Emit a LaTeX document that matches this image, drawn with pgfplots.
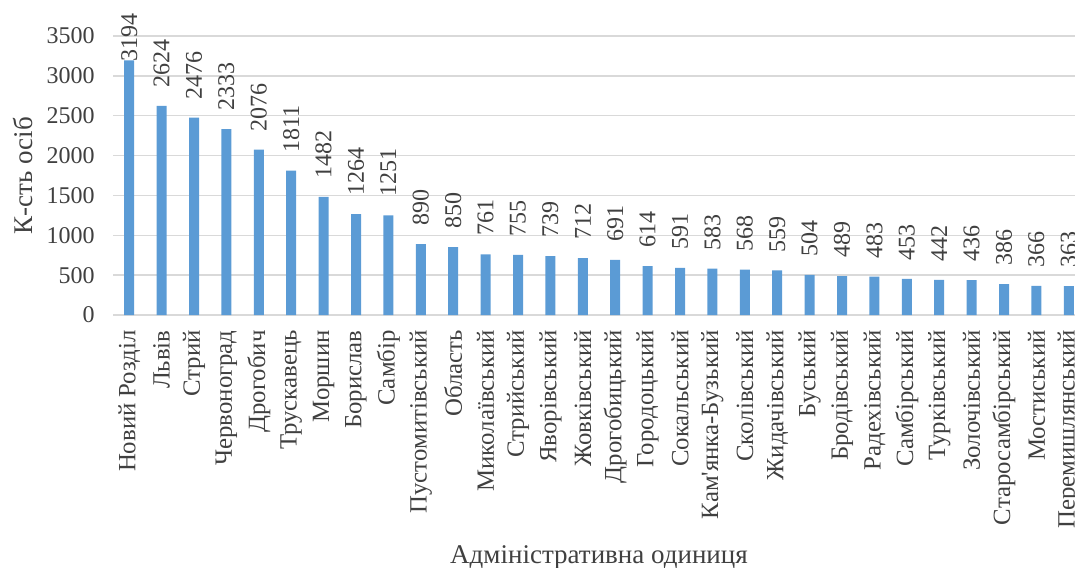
\documentclass[border=0pt]{standalone}
\usepackage{fontspec}
\setmainfont{Liberation Serif}
\usepackage{pgfplots}
\pgfplotsset{compat=1.18}
\definecolor{barblue}{HTML}{5B9BD5}
\definecolor{txt}{HTML}{404040}
\definecolor{gridgray}{HTML}{D9D9D9}

\begin{document}
\begin{tikzpicture}
\begin{axis}[
  scale only axis, width=486pt, height=139.5pt,
  xmin=-0.5, xmax=29.5, ymin=0, ymax=3500,
  enlargelimits=false, clip=false,
  ybar, bar width=5pt,
  axis line style={draw=none},
  major tick length=0pt,
  ymajorgrids, grid style={gridgray, line width=0.75pt},
  ytick={0,500,...,3500},
  /pgf/number format/assume math mode=true,
  /pgf/number format/set thousands separator={},
  tick label style={text=txt, font=\fontsize{12}{12}\selectfont},
  yticklabel style={anchor=east, inner xsep=9pt},
  xtick={0,...,29},
  xticklabels={Новий Розділ, Львів, Стрий, Червоноград, Дрогобич, Трускавець,
    Моршин, Борислав, Самбір, Пустомитівський, Область, Миколаївський,
    Стрийський, Яворівський, Жовківський, Дрогобицький, Городоцький,
    Сокальський, Кам\textquotesingle янка-Бузький, Сколівський, Жидачівський, Буський,
    Бродівський, Радехівський, Самбірський, Турківський, Золочівський,
    Старосамбірський, Мостиський, Перемишлянський},
  xticklabel style={rotate=90, anchor=east, inner xsep=7.5pt,
    font=\fontsize{12.4}{12.4}\selectfont},
  ylabel={К-сть осіб},
  ylabel style={at={(axis description cs:0,0.5)}, anchor=center, yshift=45pt,
    text=txt, font=\fontsize{13.5}{13.5}\selectfont},
  xlabel={Адміністративна одиниця},
  xlabel style={at={(axis description cs:0.5,0)}, anchor=center, yshift=-121pt,
    text=txt, font=\fontsize{13.5}{13.5}\selectfont},
  nodes near coords,
  visualization depends on={x \as \xx},
  every node near coord/.append style={rotate=90, anchor=west,
    text=txt, font=\fontsize{12}{12}\selectfont,
    inner xsep={\xx<0.5 ? -1 : 9}},
]
\addplot[fill=barblue, draw=none] coordinates {
  (0,3194) (1,2624) (2,2476) (3,2333) (4,2076) (5,1811) (6,1482) (7,1264)
  (8,1251) (9,890) (10,850) (11,761) (12,755) (13,739) (14,712) (15,691)
  (16,614) (17,591) (18,583) (19,568) (20,559) (21,504) (22,489) (23,483)
  (24,453) (25,442) (26,436) (27,386) (28,366) (29,363)
};
\end{axis}
\pgfresetboundingbox
\path[use as bounding box] (-56.5pt,-126pt) rectangle (481pt,157.5pt);
\end{tikzpicture}
\end{document}
